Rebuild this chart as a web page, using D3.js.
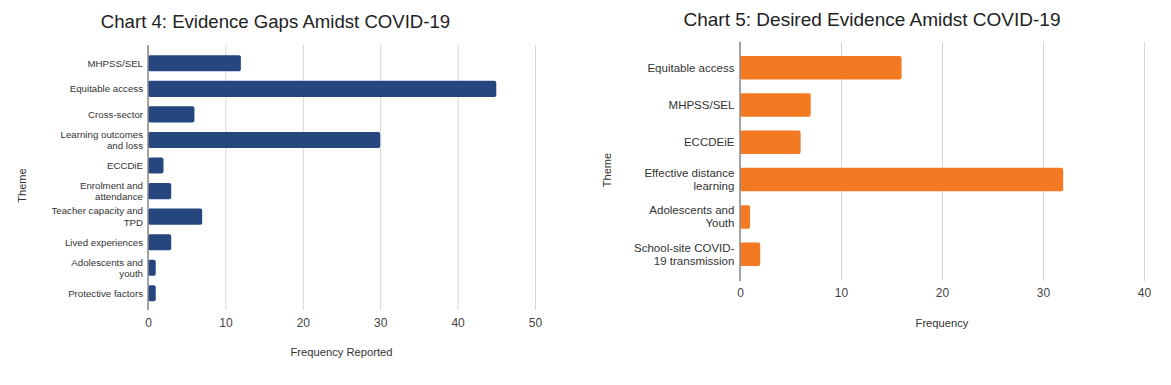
<!DOCTYPE html>
<html>
<head>
<meta charset="utf-8">
<script src="https://cdn.jsdelivr.net/npm/d3@7"></script>
<style>
  body { margin: 0; background: #fff; }
  svg { display: block; font-family: Arial, "Liberation Sans", sans-serif; }
</style>
</head>
<body>
<div id="chart"></div>
<script>
// Chart 4 data
const gapThemes = ['MHPSS/SEL', 'Equitable access', 'Cross-sector', 'Learning outcomes\nand loss', 'ECCDiE',
                   'Enrolment and\nattendance', 'Teacher capacity and\nTPD', 'Lived experiences',
                   'Adolescents and\nyouth', 'Protective factors'];
const gapValues = [12, 45, 6, 30, 2, 3, 7, 3, 1, 1];
const gapTicks = [0, 10, 20, 30, 40, 50];

// Chart 5 data
const desiredThemes = ['Equitable access', 'MHPSS/SEL', 'ECCDEiE', 'Effective distance\nlearning',
                       'Adolescents and\nYouth', 'School-site COVID-\n19 transmission'];
const desiredValues = [16, 7, 6, 32, 1, 2];
const desiredTicks = [0, 10, 20, 30, 40];

const svg = d3.select('#chart').append('svg')
    .attr('width', 1171)
    .attr('height', 385);

function drawChart(cfg) {
  const data = cfg.themes.map((t, i) => ({ theme: t, value: cfg.values[i] }));

  const x = d3.scaleLinear()
      .domain([0, d3.max(cfg.ticks)])
      .range(cfg.xRange);

  const y = d3.scaleBand()
      .domain(cfg.themes)
      .range(cfg.yBand)
      .paddingInner(0.37)
      .paddingOuter(0.185);

  const g = svg.append('g');

  // grid + tick labels
  const axis = g.append('g')
      .attr('transform', 'translate(0,' + cfg.plotBottom + ')')
      .call(d3.axisBottom(x).tickValues(cfg.ticks)
        .tickSize(-(cfg.plotBottom - cfg.plotTop))
        .tickPadding(cfg.tickPad)
        .tickFormat(d3.format('d')));
  axis.select('.domain').remove();
  axis.selectAll('line')
      .attr('stroke', '#d6d6d6')
      .attr('stroke-width', 1);
  axis.selectAll('text')
      .attr('font-size', '12px')
      .attr('fill', '#444');

  // bars
  g.append('g').selectAll('rect')
      .data(data)
    .enter().append('rect')
      .attr('x', x(0))
      .attr('y', d => y(d.theme))
      .attr('width', d => x(d.value) - x(0))
      .attr('height', y.bandwidth())
      .attr('rx', 2)
      .attr('fill', cfg.color);

  // zero line
  g.append('line')
      .attr('x1', x(0)).attr('x2', x(0))
      .attr('y1', cfg.plotTop).attr('y2', cfg.plotBottom)
      .attr('stroke', '#8a8a8a')
      .attr('stroke-width', 1.5);

  // category labels
  const labels = g.append('g').selectAll('text')
      .data(data)
    .enter().append('text')
      .attr('text-anchor', 'end')
      .attr('font-size', cfg.labelSize + 'px')
      .attr('fill', '#333')
      .attr('x', x(0) - cfg.labelGap)
      .attr('y', d => y(d.theme) + y.bandwidth() / 2);

  labels.each(function(d) {
    const lines = d.theme.split('\n');
    const el = d3.select(this);
    const start = -(lines.length - 1) / 2 * cfg.lineHeight;
    lines.forEach((l, i) => {
      el.append('tspan')
        .attr('x', x(0) - cfg.labelGap)
        .attr('dy', i === 0 ? start + cfg.labelSize * 0.35 : cfg.lineHeight)
        .text(l);
    });
  });

  // title
  g.append('text')
      .attr('x', cfg.titleX)
      .attr('y', cfg.titleY)
      .attr('text-anchor', 'middle')
      .attr('font-size', cfg.titleSize + 'px')
      .attr('fill', '#222')
      .text(cfg.title);

  // x axis title
  g.append('text')
      .attr('x', (cfg.xRange[0] + cfg.xRange[1]) / 2)
      .attr('y', cfg.xTitleY)
      .attr('text-anchor', 'middle')
      .attr('font-size', '11.2px')
      .attr('fill', '#333')
      .text(cfg.xTitle);

  // y axis title
  g.append('text')
      .attr('transform', 'translate(' + cfg.yTitleX + ',' + cfg.yTitleY + ') rotate(-90)')
      .attr('text-anchor', 'middle')
      .attr('font-size', '11px')
      .attr('fill', '#333')
      .text('Theme');
}

drawChart({
  themes: gapThemes, values: gapValues, ticks: gapTicks,
  color: '#25467f',
  xRange: [148, 535], yBand: [50.5, 306.1],
  plotTop: 45, plotBottom: 310, tickPad: 8,
  labelSize: 9.7, labelGap: 5, lineHeight: 11.3,
  title: 'Chart 4: Evidence Gaps Amidst COVID-19', titleX: 275.5, titleY: 28, titleSize: 18.6,
  xTitle: 'Frequency Reported', xTitleY: 355.5,
  yTitleX: 25.5, yTitleY: 185.5
});

drawChart({
  themes: desiredThemes, values: desiredValues, ticks: desiredTicks,
  color: '#f37a22',
  xRange: [740, 1144], yBand: [49, 272.9],
  plotTop: 41.7, plotBottom: 281, tickPad: 7.5,
  labelSize: 11.5, labelGap: 5.6, lineHeight: 13,
  title: 'Chart 5: Desired Evidence Amidst COVID-19', titleX: 872, titleY: 25.5, titleSize: 19,
  xTitle: 'Frequency', xTitleY: 326.5,
  yTitleX: 610.5, yTitleY: 170
});
</script>
</body>
</html>
